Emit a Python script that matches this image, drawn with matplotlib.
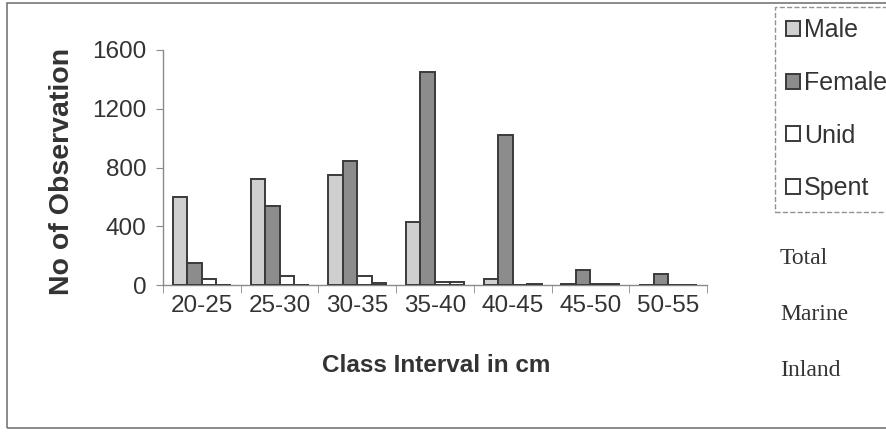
import numpy as np
import matplotlib
matplotlib.use("Agg")
import matplotlib.pyplot as plt
from matplotlib.patches import Rectangle

# values
classes = ["20-25", "25-30", "30-35", "35-40", "40-45", "45-50", "50-55"]
male = [600, 725, 750, 430, 40, 10, 0]
female = [150, 540, 845, 1450, 1020, 105, 75]
unid = [40, 60, 60, 20, 0, 8, 0]
spent = [0, 0, 15, 20, 10, 8, 0]
series_names = ["Male", "Female", "Unid", "Spent"]
side_notes = ["Total", "Marine", "Inland"]

plt.rcParams['font.family'] = ['Liberation Sans', 'DejaVu Sans']

W, H = 887, 437
fig = plt.figure(figsize=(W / 100, H / 100), dpi=100)

def fx(px):
    return px / W

def fy(py):
    return 1 - py / H

ax = fig.add_axes([fx(163), fy(285), fx(707) - fx(163), fy(50) - fy(285)])

x = np.arange(len(classes))
w = 0.187
colors = ["#cfcfcf", "#8c8c8c", "white", "white"]
bars = []
for k, vals in enumerate([male, female, unid, spent]):
    b = ax.bar(x + (k - 1.5) * w, vals, w, color=colors[k], edgecolor="#3a3a3a",
               linewidth=1.4, label=series_names[k], zorder=3)
    bars.append(b)

ax.set_xlim(-0.5, len(classes) - 0.5)
ax.set_ylim(0, 1600)
ax.set_yticks([0, 400, 800, 1200, 1600])
ax.set_xticks(x)
ax.set_xticklabels(classes)
ax.set_xticks(np.arange(len(classes) + 1) - 0.5, minor=True)

for s in ["top", "right"]:
    ax.spines[s].set_visible(False)
for s in ["left", "bottom"]:
    ax.spines[s].set_color("#8a8a8a")
    ax.spines[s].set_linewidth(1.0)

ax.tick_params(axis="x", which="major", length=0, pad=7, labelsize=17.5, labelcolor="#333333")
ax.tick_params(axis="x", which="minor", length=6, color="#8a8a8a", direction="out")
ax.tick_params(axis="y", length=5, color="#8a8a8a", pad=7, labelsize=17.5, labelcolor="#333333")

fig.text(fx(62), fy(171), "No of Observation", rotation=90, ha="center", va="center",
         fontsize=20.5, fontweight="bold", color="#333333")
fig.text(fx(436), fy(366), "Class Interval in cm", ha="center", va="center",
         fontsize=17.5, fontweight="bold", color="#333333")

leg = fig.legend(handles=bars, labels=series_names, loc="upper left",
                 bbox_to_anchor=(fx(775), fy(7)), borderaxespad=0, fancybox=False,
                 fontsize=18, handlelength=0.55, handleheight=0.55, handletextpad=0.15,
                 labelspacing=1.15, borderpad=0.45)
for t in leg.get_texts():
    t.set_color("#333333")
fr = leg.get_frame()
fr.set_edgecolor("#777777")
fr.set_linestyle("--")
fr.set_linewidth(1.0)

for i, txt in enumerate(side_notes):
    fig.text(fx(780), fy(258 + 56 * i), txt, ha="left", va="center", fontsize=17,
             family=["Liberation Serif", "DejaVu Serif"], color="#333333")

# scanned page frame around the chart
fig.patches.append(Rectangle((fx(7), fy(428)), 1.2, fy(3) - fy(428), transform=fig.transFigure,
                             fill=False, edgecolor="#777777", linewidth=1.2))

fig.savefig("out.png", dpi=100)
